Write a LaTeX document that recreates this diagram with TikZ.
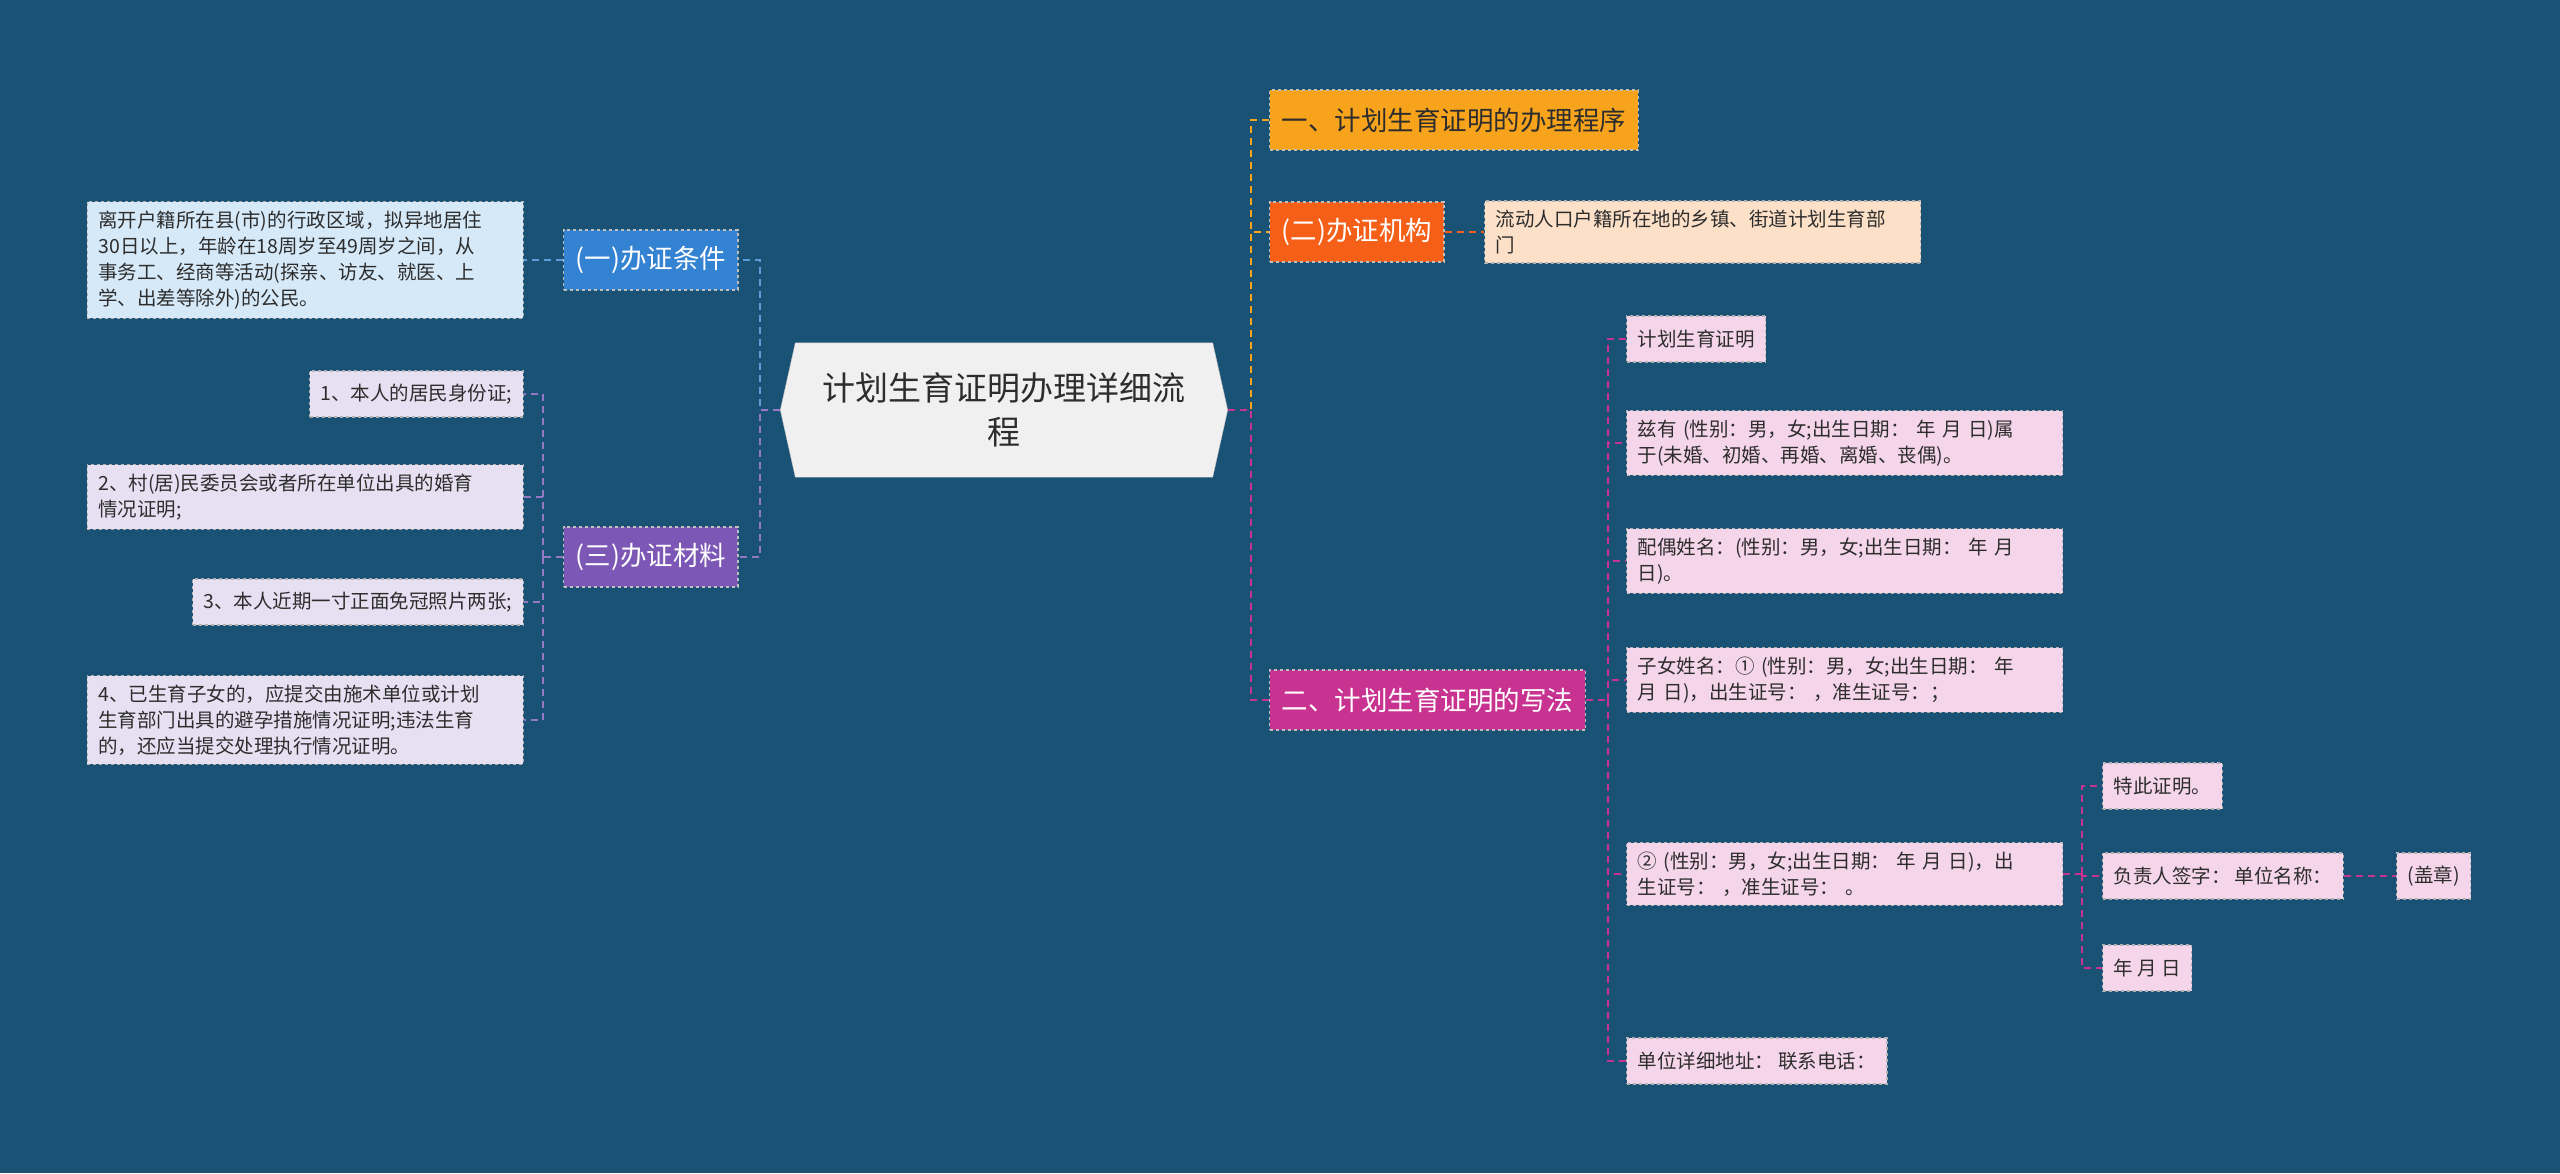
\documentclass[tikz,border=0pt]{standalone}
\usepackage{fontspec}
\setmainfont{Noto Sans CJK SC}
\XeTeXlinebreaklocale "zh"
\XeTeXlinebreakskip=0pt plus 1pt
\usetikzlibrary{positioning,calc}

\definecolor{bgblue}{RGB}{26,82,118}
\definecolor{condblue}{RGB}{52,130,210}
\definecolor{condlight}{RGB}{214,233,248}
\definecolor{matpurple}{RGB}{124,87,181}
\definecolor{matlight}{RGB}{230,224,242}
\definecolor{steporange}{RGB}{247,163,28}
\definecolor{orgred}{RGB}{245,95,23}
\definecolor{orglight}{RGB}{253,224,200}
\definecolor{writemag}{RGB}{200,50,145}
\definecolor{writelight}{RGB}{245,213,234}
\definecolor{txtdark}{RGB}{45,45,45}

\tikzset{
  branch/.style={draw=white!75!black, dashed, line width=1.2pt, inner xsep=12pt,
    minimum height=60pt, font=\fontsize{26.5}{30}\selectfont, text=white},
  leaf/.style={draw=white!70!black, dashed, line width=1.2pt, inner xsep=11pt, inner ysep=9pt,
    align=left, font=\fontsize{19.5}{26}\selectfont, text=txtdark, minimum height=46pt},
  wide/.style={text width=414pt},
  lnk/.style={dashed, line width=1.5pt, dash pattern=on 7pt off 5pt},
}

\begin{document}
\begin{tikzpicture}[x=1pt,y=-1pt]
  \fill[bgblue] (0,0) rectangle (2560,1173);
  \useasboundingbox (0,0) rectangle (2560,1173);

  %central topic
  \node[minimum width=447pt, minimum height=134pt] (root) at (1004,410) {};
  \fill[white!94!black, draw=white!75!black]
    (root.west) -- ($(root.north west)+(15,0)$) -- ($(root.north east)+(-15,0)$)
    -- (root.east) -- ($(root.south east)+(-15,0)$) -- ($(root.south west)+(15,0)$) -- cycle;
  \node[align=center, text=txtdark, font=\fontsize{33}{44}\selectfont] at (root) {计划生育证明办理详细流\\程};

  %left branches
  \node[branch, fill=condblue, anchor=west] (cond) at (563,260) {(一)办证条件};
  \node[branch, fill=matpurple, anchor=west] (mat) at (563,557) {(三)办证材料};
  \node[leaf, wide, fill=condlight, anchor=east] (condtxt) at (524,260)
    {离开户籍所在县(市)的行政区域，拟异地居住\\30日以上，年龄在18周岁至49周岁之间，从\\事务工、经商等活动(探亲、访友、就医、上\\学、出差等除外)的公民。};
  \node[leaf, fill=matlight, anchor=east] (mat1) at (524,394) {1、本人的居民身份证;};
  \node[leaf, wide, fill=matlight, anchor=east] (mat2) at (524,497)
    {2、村(居)民委员会或者所在单位出具的婚育\\情况证明;};
  \node[leaf, fill=matlight, anchor=east] (mat3) at (524,602) {3、本人近期一寸正面免冠照片两张;};
  \node[leaf, wide, fill=matlight, anchor=east] (mat4) at (524,720)
    {4、已生育子女的，应提交由施术单位或计划\\生育部门出具的避孕措施情况证明;违法生育\\的，还应当提交处理执行情况证明。};

  \coordinate (lj) at (760,410);
  \coordinate (mj) at (543,557);
  \draw[lnk, condblue!80!white] (root.west) -- (lj) |- (cond.east);
  \draw[lnk, matpurple!80!white] (root.west) -- (lj) |- (mat.east);
  \draw[lnk, condblue!80!white] (cond.west) -- (condtxt.east);
  \draw[lnk, matpurple!80!white] (mat.west) -- (mj);
  \foreach \m in {mat1,mat2,mat3,mat4}
    \draw[lnk, matpurple!80!white] (mj) |- (\m.east);

  %right branches
  \node[branch, fill=steporange, text=txtdark, anchor=west] (step) at (1269,120) {一、计划生育证明的办理程序};
  \node[branch, fill=orgred, anchor=west] (org) at (1269,232) {(二)办证机构};
  \node[leaf, wide, fill=orglight, anchor=west] (orgtxt) at (1484,232)
    {流动人口户籍所在地的乡镇、街道计划生育部\\门};
  \node[branch, fill=writemag, anchor=west] (write) at (1269,700) {二、计划生育证明的写法};

  \coordinate (rj) at (1251,410);
  \draw[lnk, steporange] (root.east) -- (rj) |- (step.west);
  \draw[lnk, steporange] (root.east) -- (rj) |- (org.west);
  \draw[lnk, writemag] (root.east) -- (rj) |- (write.west);
  \draw[lnk, orgred] (org.east) -- (orgtxt.west);

  %writing items
  \node[leaf, fill=writelight, anchor=west] (w1) at (1626,339) {计划生育证明};
  \node[leaf, wide, fill=writelight, anchor=west] (w2) at (1626,443)
    {兹有 (性别：男，女;出生日期：\ 年 月 日)属\\于(未婚、初婚、再婚、离婚、丧偶)。};
  \node[leaf, wide, fill=writelight, anchor=west] (w3) at (1626,561)
    {配偶姓名：(性别：男，女;出生日期：\ 年 月\\日)。};
  \node[leaf, wide, fill=writelight, anchor=west] (w4) at (1626,680)
    {子女姓名：① (性别：男，女;出生日期：\ 年\\月 日)，出生证号：\ ，准生证号：；};
  \node[leaf, wide, fill=writelight, anchor=west] (w5) at (1626,874)
    {② (性别：男，女;出生日期：\ 年 月 日)，出\\生证号：\ ，准生证号：\ 。};
  \node[leaf, fill=writelight, anchor=west] (w6) at (1626,1061) {单位详细地址：\ 联系电话：};

  \coordinate (wj) at (1608,700);
  \draw[lnk, writemag] (write.east) -- (wj);
  \foreach \w in {w1,w2,w3,w4,w5,w6}
    \draw[lnk, writemag] (wj) |- (\w.west);

  %signature items
  \node[leaf, fill=writelight, anchor=west] (s1) at (2102,786) {特此证明。};
  \node[leaf, fill=writelight, anchor=west] (s2) at (2102,876) {负责人签字：\ 单位名称：};
  \node[leaf, fill=writelight, anchor=west] (s3) at (2102,968) {年 月 日};
  \node[leaf, fill=writelight, anchor=west] (seal) at (2396,876) {(盖章)};

  \coordinate (sj) at (2082,874);
  \draw[lnk, writemag] (w5.east) -- (sj);
  \foreach \s in {s1,s2,s3}
    \draw[lnk, writemag] (sj) |- (\s.west);
  \draw[lnk, writemag] (s2.east) -- (seal.west);
\end{tikzpicture}
\end{document}
